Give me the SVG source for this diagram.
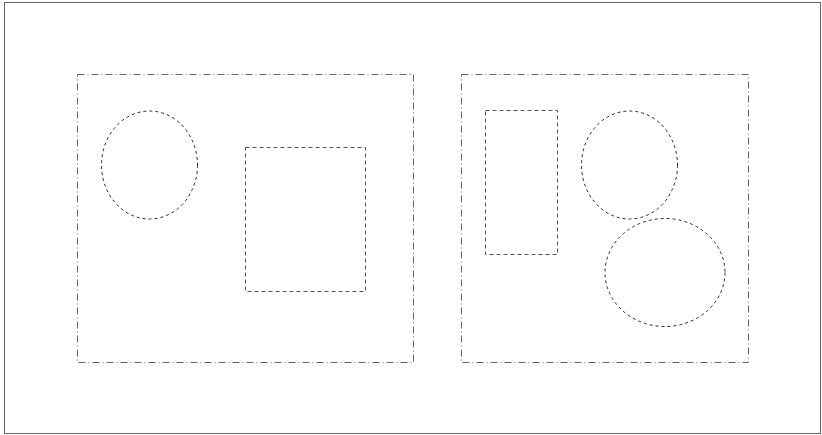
<svg xmlns="http://www.w3.org/2000/svg" width="822" height="435" viewBox="0 0 822 435">
<style>
.border{fill:#fff;stroke:#666;stroke-width:1}
.frame{fill:none;stroke:#666;stroke-width:1;stroke-dasharray:7,3,1,3}
.box{fill:none;stroke:#555;stroke-width:1;stroke-dasharray:4,3}
.ell{fill:none;stroke:#111;stroke-width:0.9;stroke-dasharray:3,3}
</style>
<rect class="border" x="4.5" y="2.5" width="816" height="431"/>
<g id="frame-left"><rect class="frame" x="77.5" y="74.5" width="336" height="288"/></g>
<g id="frame-right"><rect class="frame" x="461.5" y="74.5" width="287" height="288"/></g>
<g id="ellipse-left"><ellipse class="ell" cx="149.5" cy="165" rx="48" ry="54"/></g>
<g id="rect-left"><rect class="box" x="245.5" y="147.5" width="120" height="144"/></g>
<g id="rect-right"><rect class="box" x="485.5" y="110.5" width="72" height="144"/></g>
<g id="ellipse-right-top"><ellipse class="ell" cx="629.5" cy="165" rx="48" ry="54"/></g>
<g id="ellipse-right-bottom"><ellipse class="ell" cx="665" cy="272.5" rx="60" ry="54"/></g>
<g id="connectors"></g>
</svg>
